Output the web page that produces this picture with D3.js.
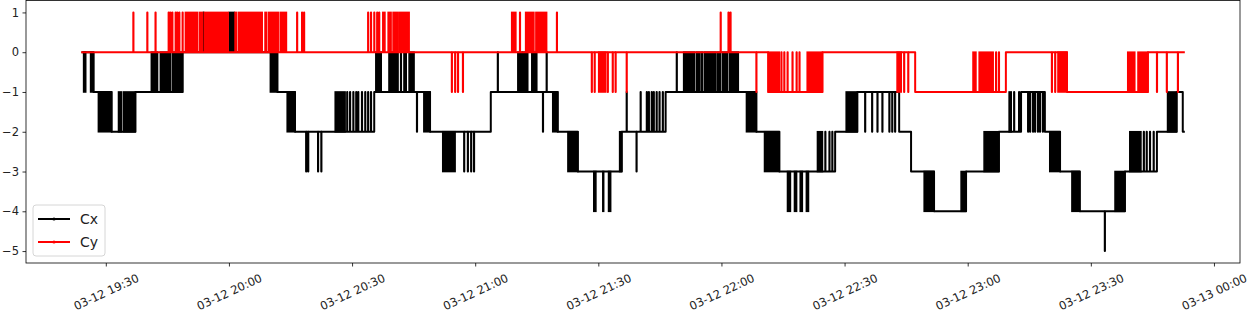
<!DOCTYPE html>
<html><head><meta charset="utf-8">
<script src="https://cdn.jsdelivr.net/npm/d3@7"></script>
<style>
body{margin:0;background:#fff;}
svg{display:block;font-family:"DejaVu Sans",sans-serif;}
</style>
</head><body>
<svg id="chart" width="1249" height="313"></svg>
<script>
// time values = minutes after 2021-03-12 19:00
const yTicks = [-5, -4, -3, -2, -1, 0, 1];
const seriesNames = ["Cx", "Cy"];

// Cx: base level change points [t, value]
const cxLevels = [[24.1,0],[27.0,-1],[31.4,-2],[37.2,-1],[48.7,0],[71.8,-1],[76.1,-2],[95.4,-1],[109.0,-2],[123.8,-1],[140.1,-2],[145.0,-3],[155.7,-2],[166.4,-1],[188.5,-2],[194.1,-3],[207.7,-2],[213.1,-1],[223.3,-2],[226.2,-3],[231.8,-4],[239.6,-3],[247.6,-2],[253.0,-1],[258.8,-2],[262.5,-3],[267.3,-4],[278.3,-3],[286.1,-2],[290.9,-1],[292.4,-2],[292.9,-2]];
// Cx: single-sample excursions [t, value]
const cxSpikes = [[53.8,1],[78.8,-3],[79.3,-3],[81.7,-3],[82.5,-3],
 [88.8,-1],[89.5,-1],[90.3,-1],[91.0,-1],[91.5,-1],[92.4,-1],[93.2,-1],[93.9,-1],[94.6,-1],
 [101.9,0],[102.7,0],[103.1,0],[105.8,-2],
 [117.3,-3],[118.2,-3],[119.0,-3],[119.7,-3],
 [125.5,0],[136.5,-2],[137.4,0],
 [156.9,-1],[159.3,-3],[160.3,-1],[161.8,-1],[162.3,-1],[163.0,-1],[163.5,-1],[164.2,-1],[164.9,-1],[165.7,-1],
 [169.1,0],
 [205.3,-2],[206.3,-2],[207.0,-2],
 [215.0,-2],[216.7,-2],[218.0,-2],[219.2,-2],[220.9,-2],[221.6,-2],[222.3,-2],
 [251.3,-1],[252.5,-1],
 [254.7,-2],[255.2,-2],[255.9,-2],[256.4,-2],[257.1,-2],[257.6,-2],[258.3,-2],
 [273.4,-5],
 [282.9,-2],[283.6,-2],[284.4,-2],[285.3,-2]];
// Cx: rapid toggling between base level and value [t0, t1, value]
const cxBursts = [[24.6,25.1,-1],[26.3,27.0,-1],[28.2,31.4,-2],[33.1,33.8,-1],[34.3,37.2,-1],
 [41.1,42.6,0],[43.3,45.7,0],[46.2,48.7,0],[60.1,61.3,1],[70.1,71.8,-1],[74.2,76.1,-2],
 [85.9,88.3,-1],[95.8,97.1,0],[99.0,101.2,0],[103.9,105.1,0],[107.5,109.0,-2],[112.1,115.1,-3],
 [130.4,131.4,0],[131.6,132.8,0],[133.8,135.0,0],[138.9,140.1,-2],[142.6,145.0,-3],
 [148.9,149.4,-4],[151.1,151.3,-4],[152.5,153.0,-4],[155.2,155.7,-2],
 [170.8,173.4,0],[173.9,174.7,0],[175.1,175.4,0],[175.9,178.6,0],[179.0,179.8,0],[180.3,181.5,0],[182.0,184.1,0],
 [186.1,188.5,-2],[190.5,194.1,-3],[196.1,196.8,-4],[197.8,198.3,-4],[199.2,199.7,-4],[200.7,201.2,-4],
 [203.4,204.6,-2],[210.4,213.1,-1],[229.4,231.8,-4],[238.4,239.6,-3],[244.0,247.6,-2],[250.1,250.6,-1],
 [260.0,262.5,-3],[265.4,267.3,-4],[275.9,278.3,-3],[279.5,282.2,-2],[288.7,290.9,-1]];

// Cy
const cyLevels = [[24.0,0],[191.4,-1],[204.6,0],[227.2,-1],[249.3,0],[264.2,-1],[283.9,0],[292.9,0]];
const cySpikes = [[36.7,1],[40.1,1],[42.1,1],[45.3,1],[45.7,1],[46.2,1],[47.0,1],[47.4,1],[47.9,1],[48.7,1],
 [76.6,1],[77.8,1],[78.3,1],[93.9,1],[94.6,1],[95.4,1],[96.1,1],[96.6,1],
 [114.3,-1],[115.1,-1],[115.8,-1],[117.0,-1],[130.9,1],[139.9,1],
 [148.4,-1],[149.1,-1],[152.3,-1],[153.5,-1],[154.2,-1],[156.9,-1],
 [179.8,1],[181.7,1],[182.2,1],[188.5,-1],
 [194.6,0],[195.3,0],[196.1,0],[197.3,0],[198.3,0],[199.0,0],
 [224.5,-1],[225.5,-1],[246.9,0],[247.6,0],[260.5,-1],[261.3,-1],
 [286.1,-1],[288.5,-1],[291.2,-1]];
const cyBursts = [[49.4,52.3,1],[52.8,53.5,1],[54.0,59.8,1],[61.5,61.8,1],[62.3,68.1,1],[68.8,69.1,1],[69.6,72.0,1],[72.5,74.0,1],
 [97.5,98.0,1],[98.8,99.5,1],[100.0,101.0,1],[101.4,103.9,1],
 [128.9,129.9,1],[132.3,134.3,1],[134.8,137.4,1],[150.1,151.8,-1],
 [191.4,194.1,0],[200.9,204.6,0],[222.8,223.8,-1],
 [241.3,242.0,0],[242.8,246.2,0],[262.0,264.2,-1],
 [279.0,280.7,0],[281.5,283.9,0]];

const series = [
  {name: seriesNames[0], color: "#000000", levels: cxLevels, spikes: cxSpikes, bursts: cxBursts},
  {name: seriesNames[1], color: "#ff0000", levels: cyLevels, spikes: cySpikes, bursts: cyBursts}
];

const svg = d3.select("#chart");
const FONT = "DejaVu Sans, sans-serif";
const M = {left: 26, right: 1240, top: 0.5, bottom: 263};
const T0 = new Date(2021, 2, 12, 19, 0, 0).getTime();
const toDate = m => new Date(T0 + m * 60000);

const allT = series.flatMap(s => s.levels.map(d => d[0]));
const tMin = d3.min(allT), tMax = d3.max(allT), tPad = (tMax - tMin) * 0.05;
const x = d3.scaleTime().domain([toDate(tMin - tPad), toDate(tMax + tPad)]).range([M.left, M.right]);
const vMin = -5, vMax = 1, vPad = (vMax - vMin) * 0.05;
const y = d3.scaleLinear().domain([vMin - vPad, vMax + vPad]).range([M.bottom, M.top]);

function baseAt(levels, t) {
  let v = levels[0][1];
  for (const l of levels) { if (l[0] <= t) v = l[1]; else break; }
  return v;
}

svg.append("defs").append("clipPath").attr("id", "clip")
  .append("rect").attr("x", M.left).attr("y", M.top).attr("width", M.right - M.left).attr("height", M.bottom - M.top);

const plot = svg.append("g").attr("clip-path", "url(#clip)");
const line = d3.line().x(d => x(toDate(d[0]))).y(d => y(d[1])).curve(d3.curveStepAfter);

series.forEach(s => {
  const pts = s.levels.map(d => [d[0], d[1]]);
  s.spikes.forEach(sp => {
    const b = baseAt(s.levels, sp[0]);
    pts.push([sp[0], sp[1]]);
    pts.push([sp[0] + 0.04, b]);
  });
  pts.sort((a, b) => a[0] - b[0]);
  const g = plot.append("g");
  g.append("path").datum(pts).attr("d", line)
    .attr("fill", "none").attr("stroke", s.color).attr("stroke-width", 2).attr("stroke-linejoin", "round");
  g.selectAll("rect").data(s.bursts).join("rect")
    .attr("x", d => x(toDate(d[0])))
    .attr("width", d => Math.max(0, x(toDate(d[1])) - x(toDate(d[0]))))
    .attr("y", d => y(Math.max(d[2], baseAt(s.levels, d[0]))))
    .attr("height", d => Math.abs(y(d[2]) - y(baseAt(s.levels, d[0]))))
    .attr("fill", s.color).attr("stroke", s.color).attr("stroke-width", 1.6);
});

// axes
const xAxis = d3.axisBottom(x).ticks(d3.timeMinute.every(30))
  .tickFormat(d3.timeFormat("%m-%d %H:%M")).tickSize(3.5).tickSizeOuter(0);
const gx = svg.append("g").attr("transform", `translate(0,${M.bottom})`).call(xAxis)
  .attr("font-family", FONT).attr("font-size", 11.5);
gx.select(".domain").remove();
gx.selectAll(".tick line").attr("stroke", "#000").attr("stroke-width", 0.8);
gx.selectAll(".tick text")
  .attr("y", 0).attr("dy", null)
  .attr("dominant-baseline", "central")
  .attr("text-anchor", "middle")
  .attr("transform", "translate(0,29) rotate(-25)")
  .attr("fill", "#222");

const yAxis = d3.axisLeft(y).tickValues(yTicks).tickFormat(d3.format("d"))
  .tickSize(3.5).tickPadding(3.5).tickSizeOuter(0);
const gy = svg.append("g").attr("transform", `translate(${M.left},0)`).call(yAxis)
  .attr("font-family", FONT).attr("font-size", 11.5);
gy.select(".domain").remove();
gy.selectAll(".tick line").attr("stroke", "#000").attr("stroke-width", 0.8);
gy.selectAll(".tick text").attr("fill", "#222");

svg.append("rect").attr("x", M.left).attr("y", M.top).attr("width", M.right - M.left).attr("height", M.bottom - M.top)
  .attr("fill", "none").attr("stroke", "#000").attr("stroke-width", 0.8);

// legend
const lg = svg.append("g").attr("transform", "translate(33,205)").attr("font-family", FONT);
lg.append("rect").attr("width", 72).attr("height", 51).attr("rx", 3)
  .attr("fill", "#fff").attr("fill-opacity", 0.8).attr("stroke", "#ccc").attr("stroke-width", 0.8);
series.forEach((s, i) => {
  const yy = 14 + i * 23;
  lg.append("line").attr("x1", 5).attr("x2", 37).attr("y1", yy).attr("y2", yy)
    .attr("stroke", s.color).attr("stroke-width", 2);
  lg.append("circle").attr("cx", 21).attr("cy", yy).attr("r", 1.6).attr("fill", s.color);
  lg.append("text").attr("x", 47).attr("y", yy).attr("dominant-baseline", "central")
    .attr("font-size", "14px").attr("fill", "#222").text(s.name);
});
</script>
</body></html>
